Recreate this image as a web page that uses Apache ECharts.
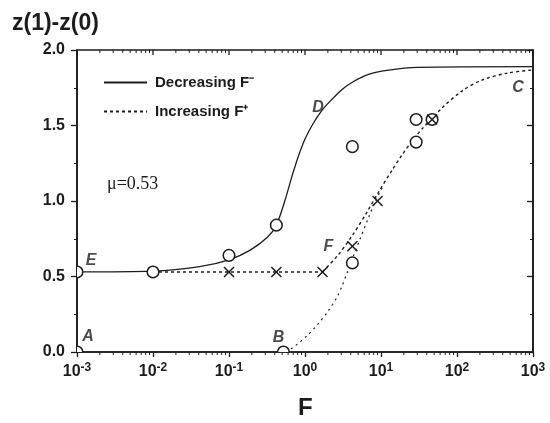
<!DOCTYPE html>
<html>
<head>
<meta charset="utf-8">
<script src="https://cdn.jsdelivr.net/npm/echarts@6/dist/echarts.min.js"></script>
<style>html,body{margin:0;padding:0;background:#fff;}#c{width:550px;height:423px;}</style>
</head>
<body>
<div id="c"></div>
<script>
// ---- data ----
const solidF = [0.001, 0.01, 0.041, 0.1, 0.19, 0.32, 0.42, 0.55, 0.67, 0.81, 1.0, 1.27, 1.67, 2.13, 3.1, 4.3, 7, 12, 30, 1000];
const solidY = [0.53, 0.535, 0.565, 0.61, 0.675, 0.76, 0.84, 1.01, 1.16, 1.29, 1.41, 1.51, 1.60, 1.66, 1.74, 1.79, 1.84, 1.865, 1.885, 1.89];
const flatF = [0.01, 0.1, 0.42, 1.7];
const flatY = [0.53, 0.53, 0.53, 0.53];
const riseF = [1.7, 2.72, 4.15, 6.55, 9.14, 14.0, 18.9, 26.3, 34.6, 63.5, 116, 213, 469, 1000];
const riseY = [0.53, 0.642, 0.768, 0.927, 1.053, 1.205, 1.305, 1.404, 1.477, 1.616, 1.728, 1.801, 1.848, 1.868];
const lowF = [0.56, 0.74, 1.09, 1.48, 2.01, 2.64, 3.07, 3.57, 4.28, 5.30, 6.75, 8.34, 10.7];
const lowY = [0.0, 0.04, 0.113, 0.185, 0.27, 0.364, 0.437, 0.523, 0.629, 0.748, 0.881, 0.993, 1.10];
const circleF = [0.001, 0.001, 0.01, 0.1, 0.42, 4.2, 4.2, 0.52, 29, 29, 47];
const circleY = [0.53, 0.0, 0.53, 0.64, 0.84, 1.36, 0.59, 0.0, 1.54, 1.39, 1.54];
const crossF = [0.1, 0.42, 1.7, 4.2, 9.0, 47];
const crossY = [0.53, 0.53, 0.53, 0.70, 1.00, 1.54];
const xDecades = [0.001, 0.01, 0.1, 1, 10, 100, 1000];
const xMinorMult = [2, 3, 4, 5, 6, 7, 8, 9];
const pointLabels = ['A', 'B', 'C', 'D', 'E', 'F'];
const pointLabelF = [0.001, 0.52, 1000, 1.67, 0.001, 4.2];
const pointLabelY = [0.0, 0.0, 1.87, 1.60, 0.53, 0.70];
const legendNames = ['Decreasing F\u207B', 'Increasing F\u207A'];
const muText = '\u03BC=0.53';
const xTitle = 'F';
const yTitle = 'z(1)-z(0)';

// ---- styles ----
const ink = '#1c1c1c';
const labelOffsets = [[11, -15], [-5, -14], [-15, 18], [-4, -3], [14, -11], [-24, 0]];
const zip = (a, b) => a.map((v, i) => [v, b[i]]);
// tick marks for the bottom (minor) and top (major + minor) edges: [F, kind]
const edgeTicks = [];
xDecades.forEach(d => edgeTicks.push([d, 1]));
xDecades.slice(0, -1).forEach(d => xMinorMult.forEach(m => edgeTicks.push([d * m, 0])));

const chart = echarts.init(document.getElementById('c'), null, {renderer: 'canvas'});

const xLabelRich = {
  b: {fontFamily: 'Liberation Sans', fontWeight: 'bold', fontSize: 16, color: ink, lineHeight: 20},
  s: {fontFamily: 'Liberation Sans', fontWeight: 'bold', fontSize: 12, color: ink, lineHeight: 12, verticalAlign: 'top'}
};

const baseY = {
  type: 'value', min: 0, max: 2, interval: 0.5,
  axisLine: {show: true, onZero: false, lineStyle: {color: ink, width: 1.6}},
  minorTick: {show: true, splitNumber: 2, length: 3, lineStyle: {color: ink, width: 1}},
  splitLine: {show: false}
};
const dashStyle = {color: ink, width: 1.4, type: [3, 3]};

const option = {
  backgroundColor: '#ffffff',
  animation: false,
  grid: {left: 77, right: 17, top: 50, bottom: 71, show: true, borderColor: ink, borderWidth: 1.6, backgroundColor: 'transparent'},
  legend: {
    data: legendNames,
    orient: 'vertical',
    left: 98,
    top: 70,
    itemWidth: 43,
    itemHeight: 14,
    itemGap: 14,
    itemStyle: {opacity: 0},
    textStyle: {fontFamily: 'Liberation Sans', fontWeight: 'bold', fontSize: 15, color: ink, padding: [0, 0, 0, 3]}
  },
  graphic: [
    {type: 'text', left: 12, top: 12, style: {text: yTitle, font: 'bold 23px "Liberation Sans"', fill: ink}},
    {type: 'text', left: 298, top: 396, style: {text: xTitle, font: 'bold 24px "Liberation Sans"', fill: ink}},
    {type: 'text', left: 107, top: 175, style: {text: muText, font: '18px "Liberation Serif"', fill: ink}}
  ],
  xAxis: {
    type: 'log', logBase: 10, min: 0.001, max: 1000, interval: 1,
    position: 'bottom',
    axisLine: {show: true, onZero: false, lineStyle: {color: ink, width: 1.6}},
    axisTick: {show: true, inside: false, length: 5, lineStyle: {color: ink, width: 1.3}},
    minorTick: {show: false},
    splitLine: {show: false},
    axisLabel: {
      margin: 10,
      formatter: v => '{b|10}{s|' + Math.round(Math.log10(v)) + '}',
      rich: xLabelRich
    }
  },
  yAxis: [
    Object.assign({}, baseY, {
      position: 'left',
      axisTick: {show: true, inside: false, length: 6, lineStyle: {color: ink, width: 1.3}},
      axisLabel: {
        margin: 12,
        formatter: v => v.toFixed(1),
        fontFamily: 'Liberation Sans', fontWeight: 'bold', fontSize: 16, color: ink
      }
    }),
    Object.assign({}, baseY, {
      position: 'right',
      axisTick: {show: true, inside: true, length: 6, lineStyle: {color: ink, width: 1.3}},
      axisLabel: {show: false}
    })
  ],
  series: [
    {
      name: legendNames[0], type: 'line', data: zip(solidF, solidY),
      smooth: 0.3, symbol: 'none', clip: true,
      lineStyle: {color: ink, width: 1.3, type: 'solid'},
      itemStyle: {color: ink}, z: 3
    },
    {
      name: legendNames[1], type: 'line', data: zip(flatF, flatY),
      smooth: false, symbol: 'none', clip: true,
      lineStyle: dashStyle, itemStyle: {color: ink}, z: 3
    },
    {
      name: legendNames[1], type: 'line', data: zip(riseF, riseY),
      smooth: 0.3, symbol: 'none', clip: true,
      lineStyle: dashStyle, itemStyle: {color: ink}, z: 3
    },
    {
      name: 'lower branch', type: 'line', data: zip(lowF, lowY),
      smooth: 0.3, symbol: 'none', clip: true,
      lineStyle: {color: ink, width: 1.2, type: [2, 4]},
      itemStyle: {color: ink}, z: 3
    },
    {
      name: 'edge ticks', type: 'custom', clip: false, silent: true, z: 8,
      data: edgeTicks,
      encode: {x: 0},
      renderItem: (params, api) => {
        const major = api.value(1) === 1;
        const b = api.coord([api.value(0), 0]);
        const t = api.coord([api.value(0), 2]);
        const children = [
          {type: 'line', shape: {x1: t[0], y1: t[1], x2: t[0], y2: t[1] + (major ? 5 : 3)}, style: {stroke: ink, lineWidth: major ? 1.3 : 1}}
        ];
        if (!major) {
          children.push({type: 'line', shape: {x1: b[0], y1: b[1], x2: b[0], y2: b[1] + 3}, style: {stroke: ink, lineWidth: 1}});
        }
        return {type: 'group', children: children};
      }
    },
    {
      name: 'circles', type: 'custom', clip: true, z: 5,
      data: zip(circleF, circleY),
      encode: {x: 0, y: 1},
      renderItem: (params, api) => {
        const p = api.coord([api.value(0), api.value(1)]);
        return {type: 'circle', shape: {cx: p[0], cy: p[1], r: 5.8},
          style: {fill: '#ffffff', stroke: ink, lineWidth: 1.5}};
      }
    },
    {
      name: 'crosses', type: 'custom', clip: true, z: 6,
      data: zip(crossF, crossY),
      encode: {x: 0, y: 1},
      renderItem: (params, api) => {
        const p = api.coord([api.value(0), api.value(1)]);
        const d = 5;
        return {type: 'group', children: [
          {type: 'line', shape: {x1: p[0] - d, y1: p[1] - d, x2: p[0] + d, y2: p[1] + d}, style: {stroke: ink, lineWidth: 1.5}},
          {type: 'line', shape: {x1: p[0] - d, y1: p[1] + d, x2: p[0] + d, y2: p[1] - d}, style: {stroke: ink, lineWidth: 1.5}}
        ]};
      }
    },
    {
      name: 'labels', type: 'scatter', clip: false, z: 7,
      symbolSize: 0, silent: true,
      data: pointLabels.map((t, i) => ({
        name: t, value: [pointLabelF[i], pointLabelY[i]],
        label: {offset: labelOffsets[i]}
      })),
      label: {
        show: true, position: 'inside', formatter: p => p.name,
        fontFamily: 'Liberation Sans', fontStyle: 'italic', fontWeight: 'bold', fontSize: 16, color: ink
      }
    }
  ]
};
chart.setOption(option);
</script>
</body>
</html>
